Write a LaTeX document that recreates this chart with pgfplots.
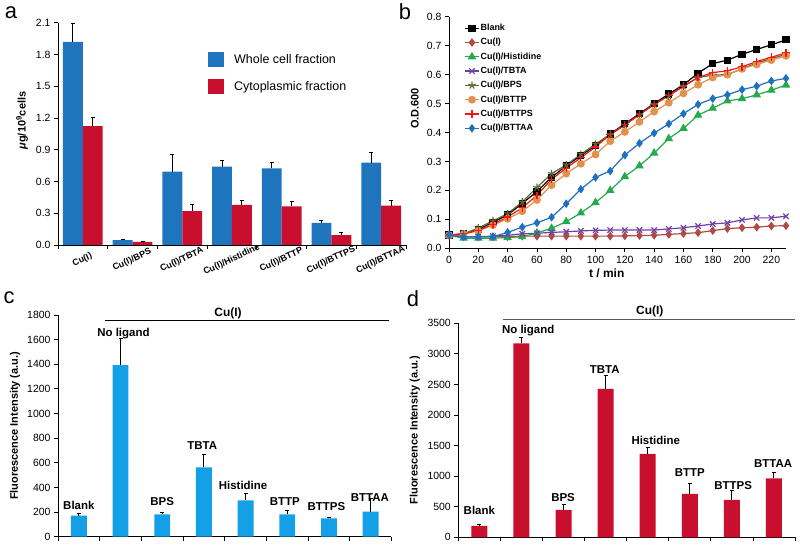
\documentclass[border=0pt]{standalone}
\usepackage{pgfplots}
\pgfplotsset{compat=1.18}
\usepackage{fontspec}
\setmainfont{Liberation Sans}
\definecolor{ablue}{RGB}{30,117,190}
\definecolor{ared}{RGB}{200,16,46}
\definecolor{cblue}{RGB}{20,160,230}
\definecolor{bcu}{RGB}{176,74,69}
\definecolor{bhis}{RGB}{34,170,76}
\definecolor{btbta}{RGB}{112,64,165}
\definecolor{bbps}{RGB}{90,110,50}
\definecolor{bbttp}{RGB}{225,145,75}
\definecolor{bbttps}{RGB}{250,20,20}
\definecolor{bbttaa}{RGB}{32,112,192}
\pgfplotsset{
  myaxis/.style={
    scale only axis, axis lines*=left, axis line style={-, line width=0.8bp},
    tick align=outside, tick pos=left, major tick length=4bp, minor tick length=4bp,
    tick style={black, line width=0.8bp},
    tick label style={font=\fontsize{10.5}{12}\selectfont},
    /pgf/number format/assume math mode=true,
    /pgf/number format/1000 sep={},
    scaled ticks=false,
    clip=false, anchor=south west,
  },
  ebar/.style={/pgfplots/error bars/y dir=plus, /pgfplots/error bars/y explicit,
     /pgfplots/error bars/error bar style={line width=1bp, black},
     /pgfplots/error bars/error mark options={rotate=90, mark size=2bp, line width=1bp, black}},
}
\tikzset{lab/.style={anchor=base, font=\bfseries\fontsize{11.5}{13}\selectfont, inner sep=0pt}}
\begin{document}
\begin{tikzpicture}
\path[use as bounding box] (0,0) rectangle (800bp,545bp);
\node[font=\fontsize{22}{24}\selectfont, inner sep=0pt] at (11bp,532.5bp) {a};
\node[font=\fontsize{22}{24}\selectfont, inner sep=0pt] at (405bp,533.5bp) {b};
\node[font=\fontsize{22}{24}\selectfont, inner sep=0pt] at (9bp,247bp) {c};
\node[font=\fontsize{22}{24}\selectfont, inner sep=0pt] at (413bp,246bp) {d};
% ---------------- panel a
\begin{axis}[myaxis, at={(58bp,300bp)}, width=348bp, height=222.3bp,
  xmin=-0.5, xmax=6.5, ymin=0, ymax=2.1,
  ytick={0,0.3,0.6,0.9,1.2,1.5,1.8,2.1},
  yticklabel style={/pgf/number format/.cd, fixed, fixed zerofill, precision=1},
  xtick={0,...,6},
  xticklabels={Cu(I),Cu(I)/BPS,Cu(I)/TBTA,Cu(I)/Histidine,Cu(I)/BTTP,Cu(I)/BTTPS,Cu(I)/BTTAA},
  xticklabel style={rotate=25, anchor=north, xshift=-5bp, yshift=-2bp, font=\bfseries\fontsize{9}{10}\selectfont},
  major x tick style={draw=none},
  minor xtick={-0.5,0.5,...,6.5},
  ylabel={\bfseries{\itshape μ}g/10\textsuperscript{9}cells},
  ylabel style={at={(axis description cs:-0.103,0.56)}, anchor=center, font=\fontsize{11}{13}\selectfont},
  legend style={at={(0.431,0.87)}, anchor=north west, draw=none, fill=none, inner sep=0pt, row sep=12bp,
    font=\fontsize{12.5}{14}\selectfont, /tikz/every odd column/.append style={column sep=8bp}},
  legend cell align=left,
]
\addplot[ybar, bar width=0.4, bar shift=0, fill=ablue, draw=none,
  legend image code/.code={\fill[ablue] (0bp,-7.5bp) rectangle (16bp,7.5bp);}, ebar]
  coordinates {(-0.2,1.92)+-(0,0.17) (0.8,0.045)+-(0,0.01) (1.8,0.692)+-(0,0.16) (2.8,0.74)+-(0,0.055)
   (3.8,0.724)+-(0,0.056) (4.8,0.21)+-(0,0.025) (5.8,0.777)+-(0,0.1)};
\addlegendentry{Whole cell fraction}
\addplot[ybar, bar width=0.4, bar shift=0, fill=ared, draw=none,
  legend image code/.code={\fill[ared] (0bp,-7.5bp) rectangle (16bp,7.5bp);}, ebar]
  coordinates {(0.2,1.124)+-(0,0.08) (1.2,0.03)+-(0,0.006) (2.2,0.32)+-(0,0.06) (3.2,0.378)+-(0,0.047)
   (4.2,0.365)+-(0,0.05) (5.2,0.094)+-(0,0.02) (6.2,0.371)+-(0,0.05)};
\addlegendentry{Cytoplasmic fraction}
\end{axis}
% ---------------- panel b
\begin{axis}[myaxis, at={(449bp,296.7bp)}, width=337bp, height=231.6bp,
  xmin=0, xmax=230, ymin=0, ymax=0.8,
  xtick={0,20,...,220}, ytick={0,0.1,0.2,0.3,0.4,0.5,0.6,0.7,0.8},
  yticklabel style={/pgf/number format/.cd, fixed, fixed zerofill, precision=1},
  xlabel={t / min}, xlabel style={at={(axis description cs:0.468,-0.108)}, anchor=center, font=\bfseries\fontsize{12}{14}\selectfont},
  ylabel={O.D.600}, ylabel style={at={(axis description cs:-0.101,0.604)}, anchor=center, font=\bfseries\fontsize{11}{13}\selectfont},
  legend style={at={(0.045,0.975)}, anchor=north west, draw=none, fill=none, inner sep=0pt, row sep=3.3bp,
    font=\bfseries\fontsize{9}{10}\selectfont, nodes={inner sep=1bp, text height=7bp, text depth=2bp}},
  legend cell align=left,
  legend image code/.code={\draw[mark repeat=2, mark phase=2] plot coordinates {(0bp,0bp)(7bp,0bp)(14bp,0bp)};},
  every axis plot/.append style={line width=1.2bp},
]
\addplot[black, mark=square*, mark size=3bp, mark options={solid}] coordinates {
(0,0.046)(10,0.05)(20,0.065)(30,0.09)(40,0.115)(50,0.155)(60,0.196)(70,0.245)(80,0.285)(90,0.32)(100,0.355)(110,0.395)
(120,0.43)(130,0.465)(140,0.5)(150,0.533)(160,0.565)(170,0.605)(180,0.638)(190,0.65)(200,0.67)(210,0.687)(220,0.703)(230,0.72)};
\addlegendentry{Blank}
\addplot[bcu, mark=diamond*, mark size=3.4bp, mark options={solid}] coordinates {
(0,0.045)(10,0.04)(20,0.04)(30,0.04)(40,0.04)(50,0.042)(60,0.042)(70,0.042)(80,0.042)(90,0.042)(100,0.042)(110,0.042)
(120,0.043)(130,0.044)(140,0.045)(150,0.048)(160,0.051)(170,0.054)(180,0.061)(190,0.068)(200,0.071)(210,0.073)(220,0.077)(230,0.078)};
\addlegendentry{Cu(I)}
\addplot[bhis, mark=triangle*, mark size=3.8bp, mark options={solid}] coordinates {
(0,0.045)(10,0.035)(20,0.035)(30,0.035)(40,0.037)(50,0.04)(60,0.053)(70,0.069)(80,0.092)(90,0.122)(100,0.158)(110,0.2)
(120,0.248)(130,0.285)(140,0.329)(150,0.379)(160,0.414)(170,0.46)(180,0.484)(190,0.509)(200,0.517)(210,0.53)(220,0.546)(230,0.564)};
\addlegendentry{Cu(I)/Histidine}
\addplot[btbta, mark=x, mark size=3.8bp, mark options={solid}] coordinates {
(0,0.045)(10,0.04)(20,0.04)(30,0.042)(40,0.045)(50,0.05)(60,0.052)(70,0.055)(80,0.057)(90,0.06)(100,0.062)(110,0.063)
(120,0.063)(130,0.063)(140,0.063)(150,0.067)(160,0.071)(170,0.077)(180,0.084)(190,0.088)(200,0.098)(210,0.105)(220,0.105)(230,0.111)};
\addlegendentry{Cu(I)/TBTA}
\addplot[bbps, mark=star, mark size=3.8bp, mark options={solid}] coordinates {
(0,0.045)(10,0.05)(20,0.07)(30,0.095)(40,0.12)(50,0.16)(60,0.21)(70,0.258)(80,0.288)(90,0.325)(100,0.36)(110,0.393)
(120,0.425)(130,0.462)(140,0.497)(150,0.527)(160,0.56)(170,0.59)(180,0.598)(190,0.6)(200,0.62)(210,0.64)(220,0.655)(230,0.67)};
\addlegendentry{Cu(I)/BPS}
\addplot[bbttp, mark=*, mark size=3.3bp, mark options={solid}] coordinates {
(0,0.045)(10,0.05)(20,0.06)(30,0.08)(40,0.102)(50,0.128)(60,0.167)(70,0.218)(80,0.258)(90,0.292)(100,0.324)(110,0.37)
(120,0.402)(130,0.437)(140,0.472)(150,0.503)(160,0.535)(170,0.565)(180,0.59)(190,0.6)(200,0.62)(210,0.635)(220,0.65)(230,0.665)};
\addlegendentry{Cu(I)/BTTP}
\addplot[bbttps, mark=+, mark size=3.8bp, mark options={solid}] coordinates {
(0,0.045)(10,0.05)(20,0.062)(30,0.083)(40,0.108)(50,0.14)(60,0.183)(70,0.238)(80,0.277)(90,0.313)(100,0.35)(110,0.393)
(120,0.427)(130,0.462)(140,0.497)(150,0.527)(160,0.56)(170,0.59)(180,0.607)(190,0.613)(200,0.627)(210,0.645)(220,0.66)(230,0.675)};
\addlegendentry{Cu(I)/BTTPS}
\addplot[bbttaa, mark=diamond*, mark size=3.4bp, mark options={solid}] coordinates {
(0,0.046)(10,0.04)(20,0.04)(30,0.04)(40,0.055)(50,0.073)(60,0.088)(70,0.107)(80,0.154)(90,0.204)(100,0.245)(110,0.267)
(120,0.322)(130,0.363)(140,0.398)(150,0.43)(160,0.465)(170,0.497)(180,0.517)(190,0.53)(200,0.548)(210,0.56)(220,0.578)(230,0.587)};
\addlegendentry{Cu(I)/BTTAA}
\end{axis}
% ---------------- panel c
\begin{axis}[myaxis, at={(58bp,8.3bp)}, width=333.5bp, height=221.7bp,
  xmin=-0.5, xmax=7.5, ymin=0, ymax=1800, ytick={0,200,...,1800},
  xtick={-0.5,0.5,...,7.5}, xticklabels={},
  ylabel={Fluorescence Intensity (a.u.)},
  ylabel style={at={(axis description cs:-0.129,0.5)}, anchor=center, font=\bfseries\fontsize{11}{13}\selectfont},
]
\addplot[ybar, bar width=0.38, bar shift=0, fill=cblue, draw=none, ebar] coordinates {
(0,171)+-(0,19) (1,1394)+-(0,217) (2,181)+-(0,17) (3,563)+-(0,106) (4,295)+-(0,57) (5,181)+-(0,30) (6,149)+-(0,8) (7,203)+-(0,108)};
\node[lab] at (axis cs:0,222) {Blank};
\node[lab] at (axis cs:1.07,1629) {No ligand};
\node[lab] at (axis cs:2,252) {BPS};
\node[lab] at (axis cs:2.96,709) {TBTA};
\node[lab] at (axis cs:3.94,387) {Histidine};
\node[lab] at (axis cs:4.94,252) {BTTP};
\node[lab] at (axis cs:5.94,211) {BTTPS};
\node[lab] at (axis cs:6.98,284) {BTTAA};
\draw[line width=0.8bp] (axis cs:0.63,1755) -- (axis cs:7.44,1755);
\node[lab, font=\bfseries\fontsize{12}{14}\selectfont] at (axis cs:3.58,1791) {Cu(I)};
\end{axis}
% ---------------- panel d
\begin{axis}[myaxis, at={(458.3bp,7.7bp)}, width=336.7bp, height=214bp,
  xmin=-0.5, xmax=7.5, ymin=0, ymax=3500, ytick={0,500,...,3500},
  xtick={-0.5,0.5,...,7.5}, xticklabels={},
  ylabel={Fluorescence Intensity (a.u.)},
  ylabel style={at={(axis description cs:-0.129,0.5)}, anchor=center, font=\bfseries\fontsize{11}{13}\selectfont},
]
\addplot[ybar, bar width=0.38, bar shift=0, fill=ared, draw=none, ebar] coordinates {
(0,185)+-(0,28) (1,3173)+-(0,99) (2,447)+-(0,93) (3,2426)+-(0,213) (4,1363)+-(0,109) (5,709)+-(0,174) (6,611)+-(0,152) (7,965)+-(0,93)};
\node[lab] at (axis cs:0,365) {Blank};
\node[lab] at (axis cs:1.16,3336) {No ligand};
\node[lab] at (axis cs:1.99,583) {BPS};
\node[lab] at (axis cs:2.98,2682) {TBTA};
\node[lab] at (axis cs:4.19,1510) {Histidine};
\node[lab] at (axis cs:5.0,991) {BTTP};
\node[lab] at (axis cs:6.03,785) {BTTPS};
\node[lab] at (axis cs:6.98,1145) {BTTAA};
\draw[line width=0.8bp, black!65] (axis cs:0.56,3570) -- (axis cs:7.5,3570);
\node[lab, font=\bfseries\fontsize{12}{14}\selectfont] at (axis cs:4.05,3652) {Cu(I)};
\end{axis}
\end{tikzpicture}
\end{document}
